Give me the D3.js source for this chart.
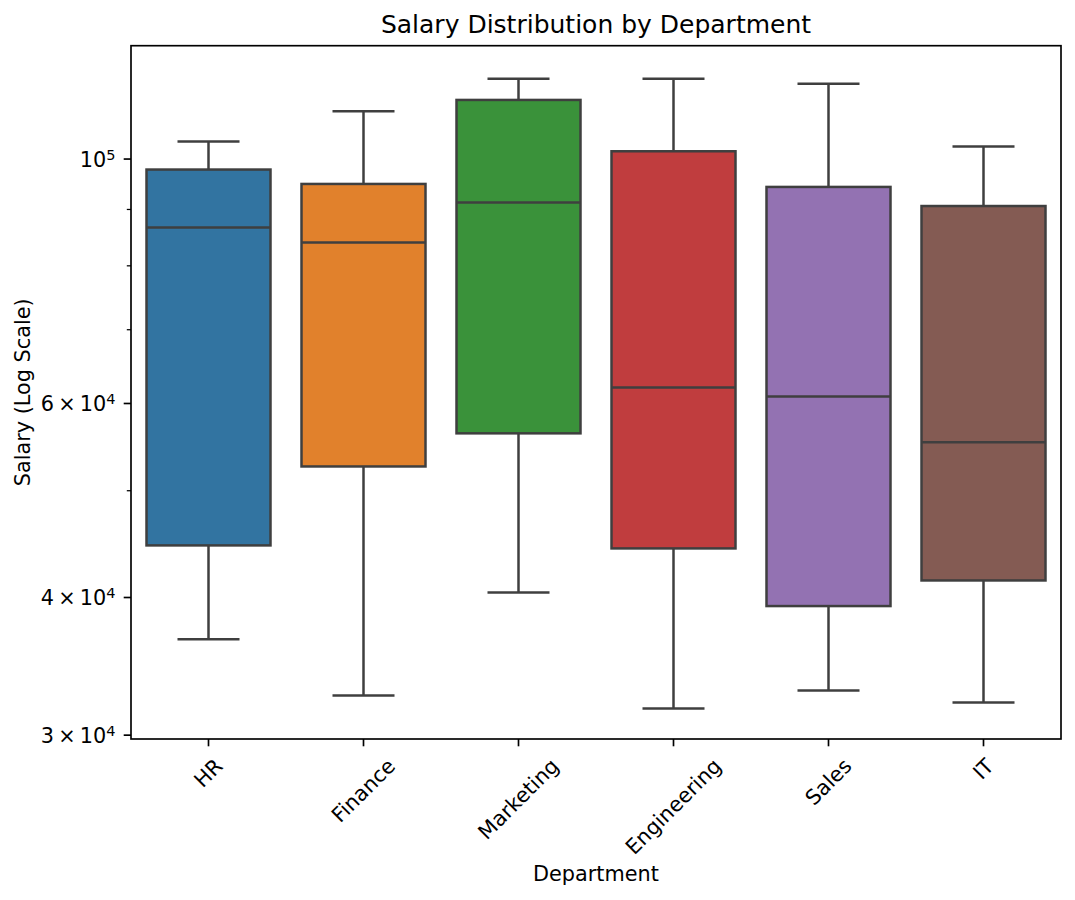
<!DOCTYPE html>
<html>
<head>
<meta charset="utf-8">
<script src="https://cdn.jsdelivr.net/npm/d3@7"></script>
<style>
  body { margin: 0; background: #fff; }
  svg text { font-family: "DejaVu Sans", sans-serif; fill: #000; }
</style>
</head>
<body>
<svg id="chart" width="1075" height="900"></svg>
<script>
const departments = ["HR", "Finance", "Marketing", "Engineering", "Sales", "IT"];
const whiskerLow  = [36650, 32600, 40430, 31720, 32940, 32120];
const q1Values    = [44600, 52600, 56370, 44320, 39290, 41450];
const medians     = [86660, 83990, 91310, 62040, 60880, 55340];
const q3Values    = [97830, 94930, 113150, 101640, 94340, 90650];
const whiskerHigh = [103720, 110500, 118300, 118300, 117070, 102650];
const boxColors   = ["#3274a1", "#e1812c", "#3a923a", "#c03d3e", "#9372b2", "#845b53"];
const yMajorTicks = [
  {v: 30000, m: "3", e: "4"},
  {v: 40000, m: "4", e: "4"},
  {v: 60000, m: "6", e: "4"},
  {v: 100000, m: null, e: "5"}
];
const yMinorTicks = [50000, 70000, 80000, 90000];

const svg = d3.select("#chart");
const L = 131, R = 1061, T = 45.7, B = 739;
const FS = 20.8;

const x = d3.scaleBand().domain(departments).range([L, R]).padding(0);
const y = d3.scaleLog().domain([29760, 126730]).range([B, T]);

const data = departments.map((d, i) => ({
  dept: d, lo: whiskerLow[i], q1: q1Values[i], med: medians[i],
  q3: q3Values[i], hi: whiskerHigh[i], color: boxColors[i]
}));

const lineColor = "#3f3f3f", lw = 2.5;
const boxW = x.bandwidth() * 0.8, capW = boxW * 0.5;

const g = svg.append("g");
data.forEach(d => {
  const cx = x(d.dept) + x.bandwidth() / 2;
  g.append("line").attr("x1", cx).attr("x2", cx).attr("y1", y(d.q3)).attr("y2", y(d.hi))
    .attr("stroke", lineColor).attr("stroke-width", lw);
  g.append("line").attr("x1", cx).attr("x2", cx).attr("y1", y(d.q1)).attr("y2", y(d.lo))
    .attr("stroke", lineColor).attr("stroke-width", lw);
  [d.hi, d.lo].forEach(v => {
    g.append("line").attr("x1", cx - capW / 2).attr("x2", cx + capW / 2)
      .attr("y1", y(v)).attr("y2", y(v))
      .attr("stroke", lineColor).attr("stroke-width", lw);
  });
  g.append("rect").attr("x", cx - boxW / 2).attr("width", boxW)
    .attr("y", y(d.q3)).attr("height", y(d.q1) - y(d.q3))
    .attr("fill", d.color).attr("stroke", lineColor).attr("stroke-width", lw);
  g.append("line").attr("x1", cx - boxW / 2).attr("x2", cx + boxW / 2)
    .attr("y1", y(d.med)).attr("y2", y(d.med))
    .attr("stroke", lineColor).attr("stroke-width", lw);
});

// frame
svg.append("rect").attr("x", L).attr("y", T).attr("width", R - L).attr("height", B - T)
  .attr("fill", "none").attr("stroke", "#000").attr("stroke-width", 1.67);

// y ticks
const yAxisG = svg.append("g");
yMajorTicks.forEach(t => {
  const yy = y(t.v);
  yAxisG.append("line").attr("x1", L - 7.3).attr("x2", L).attr("y1", yy).attr("y2", yy)
    .attr("stroke", "#000").attr("stroke-width", 1.67);
  const txt = yAxisG.append("text").attr("x", L - 15.5).attr("y", yy + 8)
    .attr("text-anchor", "end").attr("font-size", FS);
  if (t.m) txt.append("tspan").text(t.m + "\u2009\u00d7\u200910");
  else txt.append("tspan").text("10");
  txt.append("tspan").attr("dy", -7.4).attr("font-size", 14.5).text(t.e);
});
yMinorTicks.forEach(v => {
  const yy = y(v);
  yAxisG.append("line").attr("x1", L - 4.2).attr("x2", L).attr("y1", yy).attr("y2", yy)
    .attr("stroke", "#000").attr("stroke-width", 1.25);
});

// x ticks
const xAxisG = svg.append("g");
departments.forEach(d => {
  const cx = x(d) + x.bandwidth() / 2;
  xAxisG.append("line").attr("x1", cx).attr("x2", cx).attr("y1", B).attr("y2", B + 7.3)
    .attr("stroke", "#000").attr("stroke-width", 1.67);
  const t = xAxisG.append("text").attr("font-size", FS)
    .attr("text-anchor", "middle").attr("dominant-baseline", "central").text(d);
  const w = t.node().getComputedTextLength();
  const cy = 754 + (w + 24) * 0.3536;
  t.attr("transform", `translate(${cx},${cy}) rotate(-45)`);
});

// titles
svg.append("text").attr("x", (L + R) / 2).attr("y", 33.2).attr("text-anchor", "middle")
  .attr("font-size", 25).text("Salary Distribution by Department");
svg.append("text").attr("x", (L + R) / 2).attr("y", 881).attr("text-anchor", "middle")
  .attr("font-size", FS).text("Department");
svg.append("text").attr("transform", `translate(29.5,${(T + B) / 2}) rotate(-90)`)
  .attr("text-anchor", "middle").attr("font-size", FS).text("Salary (Log Scale)");
</script>
</body>
</html>
